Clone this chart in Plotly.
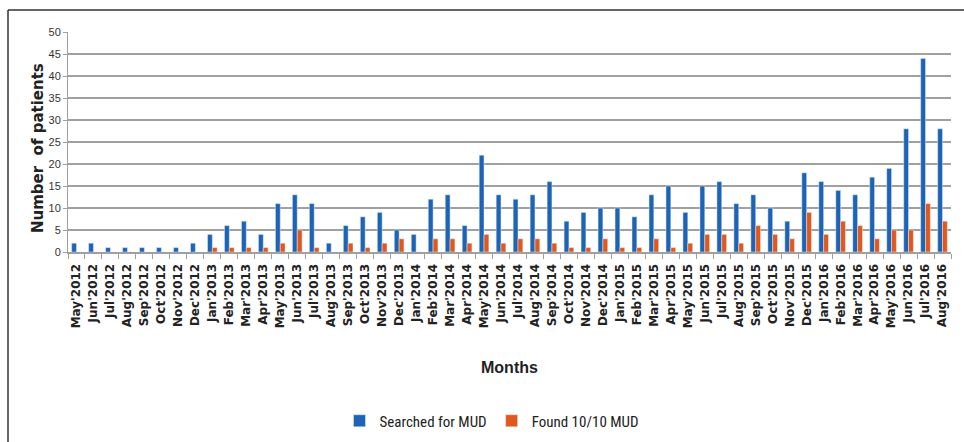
import plotly.graph_objects as go

months = ["May'2012", "Jun'2012", "Jul'2012", "Aug'2012", "Sep'2012", "Oct'2012", "Nov'2012", "Dec'2012",
          "Jan'2013", "Feb'2013", "Mar'2013", "Apr'2013", "May'2013", "Jun'2013", "Jul'2013", "Aug'2013",
          "Sep'2013", "Oct'2013", "Nov'2013", "Dec'2013", "Jan'2014", "Feb'2014", "Mar'2014", "Apr'2014",
          "May'2014", "Jun'2014", "Jul'2014", "Aug'2014", "Sep'2014", "Oct'2014", "Nov'2014", "Dec'2014",
          "Jan'2015", "Feb'2015", "Mar'2015", "Apr'2015", "May'2015", "Jun'2015", "Jul'2015", "Aug'2015",
          "Sep'2015", "Oct'2015", "Nov'2015", "Dec'2015", "Jan'2016", "Feb'2016", "Mar'2016", "Apr'2016",
          "May'2016", "Jun'2016", "Jul'2016", "Aug'2016"]

searched = [2, 2, 1, 1, 1, 1, 1, 2,
            4, 6, 7, 4, 11, 13, 11, 2,
            6, 8, 9, 5, 4, 12, 13, 6,
            22, 13, 12, 13, 16, 7, 9, 10,
            10, 8, 13, 15, 9, 15, 16, 11,
            13, 10, 7, 18, 16, 14, 13, 17,
            19, 28, 44, 28]

found = [0, 0, 0, 0, 0, 0, 0, 0,
         1, 1, 1, 1, 2, 5, 1, 0,
         2, 1, 2, 3, 0, 3, 3, 2,
         4, 2, 3, 3, 2, 1, 1, 3,
         1, 1, 3, 1, 2, 4, 4, 2,
         6, 4, 3, 9, 4, 7, 6, 3,
         5, 5, 11, 7]

fig = go.Figure()
fig.add_trace(go.Bar(x=months, y=searched, name="Searched for MUD", marker_color="#1d63b6"))
fig.add_trace(go.Bar(x=months, y=found, name="Found 10/10 MUD", marker_color="#e0581c"))

L, R, T, B = 68, 13, 32, 190
pw = 964 - L - R
ph = 442 - T - B

def px(xp):
    return (xp - L) / pw

def py(yp):
    return (442 - B - yp) / ph

fig.update_layout(
    width=964, height=442,
    margin=dict(l=L, r=R, t=T, b=B, pad=0, autoexpand=False),
    paper_bgcolor="white", plot_bgcolor="white",
    barmode="group", bargap=0.43, bargroupgap=0,
    showlegend=True,
    legend=dict(orientation="h", x=px(492), y=py(421), xanchor="center", yanchor="middle",
                font=dict(family="Liberation Sans Narrow, Arial Narrow, Roboto Condensed, Liberation Sans", size=15, color="#222"),
                itemwidth=30, traceorder="normal"),
    font=dict(family="Liberation Sans Narrow, Liberation Sans, Arial", color="#222"),
)

fig.update_xaxes(
    type="category", tickangle=-90, automargin=False,
    tickfont=dict(family="DejaVu Sans", size=12, color="#222", weight="bold"),
    ticklabelstandoff=5,
    showline=True, linecolor="#a0a0a0", linewidth=2,
    ticks="outside", ticklen=5, tickcolor="#a0a0a0", tickwidth=1, tickson="boundaries",
    showgrid=False,
)
fig.update_yaxes(
    range=[0, 50], dtick=5, automargin=False,
    tickfont=dict(family="Liberation Sans Narrow, Liberation Sans", size=11, color="#333"),
    showgrid=True, gridcolor="#a0a0a0", gridwidth=2,
    showline=True, linecolor="#a0a0a0", linewidth=1,
    ticks="outside", ticklen=4, tickcolor="#a0a0a0",
    zeroline=False,
)

fig.add_annotation(text="Number  of patients", xref="paper", yref="paper", x=px(38), y=py(148),
                   xanchor="center", yanchor="middle", textangle=-90, showarrow=False,
                   font=dict(family="DejaVu Sans", size=15, color="#222", weight="bold"))
fig.add_annotation(text="Months", xref="paper", yref="paper", x=px(510), y=py(367),
                   xanchor="center", yanchor="middle", showarrow=False,
                   font=dict(family="Liberation Sans Narrow, Arial Narrow, Liberation Sans", size=16, color="#222", weight="bold"))

fig.add_shape(type="line", xref="paper", yref="paper", x0=px(8), x1=px(8), y0=py(10), y1=py(442),
              line=dict(color="#333", width=1.5))
fig.add_shape(type="line", xref="paper", yref="paper", x0=px(8), x1=px(964), y0=py(10), y1=py(10),
              line=dict(color="#333", width=1.5))

fig.write_html("out.html", config={"displayModeBar": False},
               post_script="document.body.style.margin='0';document.body.style.overflow='hidden';")
